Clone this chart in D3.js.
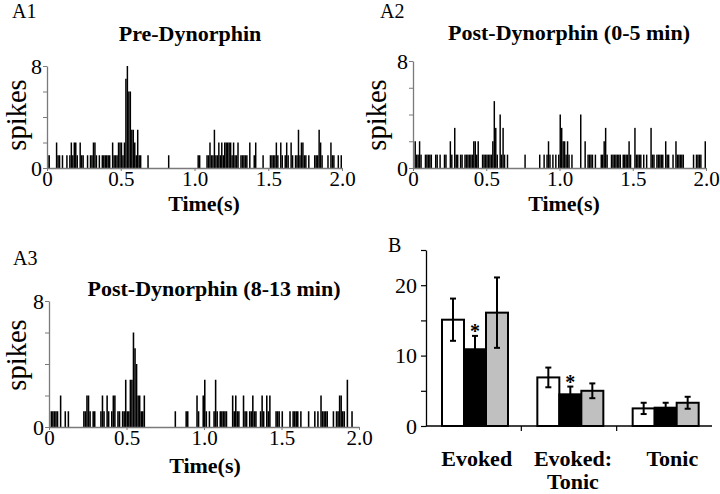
<!DOCTYPE html>
<html><head><meta charset="utf-8">
<script src="https://cdn.jsdelivr.net/npm/d3@7/dist/d3.min.js"></script>
<style>
body{margin:0;background:#fff}
svg{display:block}
svg text{font-family:"Liberation Serif","Times New Roman",serif !important;fill:#000}
</style>
</head><body>
<svg id="c" width="720" height="494"></svg>
<script>
// ---------------- DATA ----------------
const binWidth = 0.01; // seconds per histogram bin
// A1: Pre-Dynorphin, spikes per 10 ms bin (0 - 2.0 s)
const countsPre = [
 1,1,0,0,0,0,2,1,1,0, 1,0,0,1,0,1,2,1,2,2, 1,0,2,1,1,0,0,1,0,1, 1,2,2,1,0,1,0,1,1,1,
 1,1,1,0,2,1,1,1,2,2, 2,1,2,7,8,6,6,3,3,2, 1,3,1,1,0,0,0,0,1,0, 0,0,0,0,0,0,0,0,0,0,
 0,0,1,0,0,0,0,0,0,0, 0,0,0,0,0,0,0,0,0,0, 0,0,1,1,0,0,0,0,1,1, 2,1,1,3,1,1,2,1,2,1,
 2,2,2,2,2,1,2,1,1,2, 0,1,1,1,1,1,0,2,0,0, 1,2,0,0,0,0,1,0,0,0, 0,1,1,1,1,2,1,0,2,1,
 0,1,2,1,0,2,1,0,1,1, 3,1,2,2,1,1,0,1,0,0, 0,1,1,1,3,2,1,0,0,0, 1,0,2,1,1,0,0,1,0,1
];
// A2: Post-Dynorphin (0-5 min)
const countsPost05 = [
 0,2,1,1,2,1,0,0,1,1, 1,1,1,0,0,1,1,0,1,0, 0,1,1,0,0,2,1,0,3,1, 1,0,1,1,0,1,1,1,1,1,
 1,2,2,1,2,0,0,1,1,1, 1,1,1,1,2,5,3,1,0,4, 1,3,1,0,1,0,0,0,0,0, 0,0,0,0,0,0,1,0,0,0,
 0,0,0,0,0,0,1,0,0,1, 0,1,2,1,0,1,0,1,0,1, 4,3,2,2,1,2,1,0,1,0, 0,0,0,0,4,0,0,2,0,1,
 1,1,1,0,1,0,0,0,1,1, 2,3,1,0,0,1,1,1,1,1, 1,1,0,1,1,1,1,2,1,0, 0,3,1,1,1,1,0,1,0,1,
 0,0,3,1,1,0,1,1,1,1, 1,0,2,1,1,0,0,1,0,2, 1,1,1,1,1,0,0,0,0,0, 0,1,0,1,1,1,1,0,0,2
];
// A3: Post-Dynorphin (8-13 min)
const countsPost813 = [
 0,1,1,1,1,1,0,2,0,0, 1,0,1,0,0,0,0,0,0,0, 0,0,1,1,2,2,1,0,1,1, 0,0,0,1,2,1,0,2,1,0,
 1,2,2,0,1,1,0,1,1,3, 1,1,3,3,6,5,4,2,2,1, 1,2,0,0,0,0,0,0,0,0, 0,0,0,0,0,0,0,0,0,0,
 0,1,0,0,0,0,0,0,1,1, 0,0,0,0,0,2,1,0,0,2, 3,1,0,1,0,0,1,3,1,0, 1,1,1,1,1,0,0,0,2,1,
 2,1,1,0,0,2,1,1,0,1, 1,2,1,1,0,0,1,2,1,0, 2,1,2,0,0,0,1,1,1,0, 1,0,0,0,0,1,0,1,1,1,
 1,0,1,0,0,0,0,1,0,0, 0,1,0,1,0,2,1,1,1,1, 0,0,0,1,0,1,1,2,2,1, 1,0,3,0,0,1,0,0,0,0
];
const timeTicks = [0, 0.5, 1.0, 1.5, 2.0];
const timeTickLabels = ["0", "0.5", "1.0", "1.5", "2.0"];
const spikeTicks = [0, 2, 4, 6, 8];
const spikeTickLabels = ["0", "", "", "", "8"];

// B: bar chart
const groups = ["Evoked", "Evoked:Tonic", "Tonic"];
const groupLabels = [["Evoked"], ["Evoked:", "Tonic"], ["Tonic"]];
const conditions = ["Pre", "Post 0-5 min", "Post 8-13 min"];
const meanEvoked = [15.1, 10.9, 16.1];
const errEvoked = [3.0, 1.9, 5.0];
const meanRatio = [6.9, 4.5, 5.0];
const errRatio = [1.4, 1.1, 1.05];
const meanTonic = [2.5, 2.6, 3.3];
const errTonic = [0.8, 0.7, 0.85];
const significant = [[false, true, false], [false, true, false], [false, false, false]];
const barTicks = [0, 5, 10, 15, 20, 25];
const barTickLabels = ["0", "", "10", "", "20", ""];

// ---------------- DRAW ----------------
const FONT = '"Liberation Serif","Times New Roman",serif';
const svg = d3.select("#c");
const AXIS_GRAY = "#7a7a7a";

const panels = [
  {id:"A1", title:"Pre-Dynorphin", counts:countsPre, x0:47, x1:342, yb:168, yt:66,
   lx:12, ly:18, tx:190, ty:41, sx:26, sy:115, timeX:204, timeY:211},
  {id:"A2", title:"Post-Dynorphin (0-5 min)", counts:countsPost05, x0:413, x1:706, yb:168, yt:61,
   lx:380, ly:18, tx:569, ty:40, sx:386, sy:115, timeX:564, timeY:211},
  {id:"A3", title:"Post-Dynorphin (8-13 min)", counts:countsPost813, x0:49, x1:359, yb:427, yt:301,
   lx:13, ly:265, tx:214, ty:296, sx:26, sy:355, timeX:205, timeY:473}
];

function styleText(sel, size, bold) {
  sel.style("font-family", FONT).style("font-size", size + "px")
     .style("font-weight", bold ? "bold" : "normal").attr("fill", "#000");
  return sel;
}

panels.forEach(p => {
  const g = svg.append("g");
  const x = d3.scaleLinear().domain([0, 2.0]).range([p.x0, p.x1]);
  const y = d3.scaleLinear().domain([0, 8]).range([p.yb, p.yt]);

  // bars
  g.append("g").selectAll("rect")
    .data(p.counts.map((v, i) => ({i, v})).filter(d => d.v > 0))
    .join("rect")
    .attr("x", d => x(d.i * binWidth))
    .attr("width", d => x((d.i + 1) * binWidth) - x(d.i * binWidth))
    .attr("y", d => y(d.v))
    .attr("height", d => y(0) - y(d.v))
    .attr("fill", "#000");

  // y axis
  const ya = g.append("g").attr("transform", `translate(${p.x0},0)`)
    .call(d3.axisLeft(y).tickValues(spikeTicks).tickSize(4).tickSizeOuter(0).tickPadding(1)
      .tickFormat((d, i) => spikeTickLabels[i]));
  ya.attr("font-family", null).attr("font-size", null);
  ya.select(".domain").attr("stroke", AXIS_GRAY).attr("stroke-width", 1.3);
  ya.selectAll(".tick line").attr("stroke", AXIS_GRAY);
  styleText(ya.selectAll("text"), 22, false);

  // x axis
  const xa = g.append("g").attr("transform", `translate(0,${p.yb})`)
    .call(d3.axisBottom(x).tickValues(timeTicks).tickSize(3).tickSizeOuter(0).tickPadding(0)
      .tickFormat((d, i) => timeTickLabels[i]));
  xa.attr("font-family", null).attr("font-size", null);
  xa.select(".domain").attr("stroke", AXIS_GRAY).attr("stroke-width", 1.6);
  xa.selectAll(".tick line").attr("stroke", AXIS_GRAY);
  styleText(xa.selectAll("text"), 21, false);

  // texts
  styleText(g.append("text").attr("x", p.lx).attr("y", p.ly).text(p.id), 20, false);
  styleText(g.append("text").attr("x", p.tx).attr("y", p.ty).attr("text-anchor", "middle").text(p.title), 22, true);
  styleText(g.append("text").attr("transform", `translate(${p.sx},${p.sy}) rotate(-90)`)
    .attr("text-anchor", "middle").text("spikes"), 28.5, false);
  styleText(g.append("text").attr("x", p.timeX).attr("y", p.timeY).attr("text-anchor", "middle")
    .text("Time(s)"), 22, true);
});

// ----- Panel B -----
const B = svg.append("g");
const yB = d3.scaleLinear().domain([0, 25]).range([426, 250]);
const xB = d3.scaleBand().domain(groups).range([426, 712]);
const xSub = d3.scaleBand().domain(conditions).range([16, 82]);
const fills = ["#ffffff", "#000000", "#c0c0c0"];
const means = [meanEvoked, meanRatio, meanTonic];
const errs = [errEvoked, errRatio, errTonic];

const barData = [];
groups.forEach((gName, gi) => conditions.forEach((c, ci) => {
  barData.push({g:gName, gi, c, ci, m:means[gi][ci], e:errs[gi][ci], sig:significant[gi][ci]});
}));

B.selectAll("rect.bar").data(barData).join("rect").attr("class", "bar")
  .attr("x", d => xB(d.g) + xSub(d.c))
  .attr("width", xSub.bandwidth())
  .attr("y", d => yB(d.m))
  .attr("height", d => yB(0) - yB(d.m))
  .attr("fill", d => fills[d.ci])
  .attr("stroke", "#000").attr("stroke-width", 2);

const eb = B.append("g").attr("stroke", "#000").attr("stroke-width", 2);
barData.forEach(d => {
  const cx = xB(d.g) + xSub(d.c) + xSub.bandwidth() / 2;
  eb.append("line").attr("x1", cx).attr("x2", cx).attr("y1", yB(d.m - d.e)).attr("y2", yB(d.m + d.e));
  [d.m - d.e, d.m + d.e].forEach(v => {
    eb.append("line").attr("x1", cx - 3).attr("x2", cx + 3).attr("y1", yB(v)).attr("y2", yB(v));
  });
  if (d.sig) {
    styleText(B.append("text").attr("x", cx).attr("y", yB(d.m + d.e) + 2.5).attr("text-anchor", "middle")
      .text("*"), 20, true);
  }
});

// axes for B
const yaB = B.append("g").attr("transform", "translate(426,0)")
  .call(d3.axisLeft(yB).tickValues(barTicks).tickSize(5).tickSizeOuter(0).tickPadding(4)
    .tickFormat((d, i) => barTickLabels[i]));
yaB.attr("font-family", null).attr("font-size", null);
yaB.select(".domain").attr("stroke", "#000").attr("stroke-width", 1.3);
yaB.selectAll(".tick line").attr("stroke", "#000").attr("stroke-width", 1.2);
styleText(yaB.selectAll("text"), 22, false);

const xaB = B.append("g").attr("transform", "translate(0,426)");
xaB.append("line").attr("x1", 426).attr("x2", 712).attr("y1", 0).attr("y2", 0)
  .attr("stroke", "#000").attr("stroke-width", 1.3);
xaB.selectAll("line.tk").data(groups.slice(1)).join("line").attr("class", "tk")
  .attr("x1", d => xB(d)).attr("x2", d => xB(d)).attr("y1", 0).attr("y2", 5)
  .attr("stroke", "#000").attr("stroke-width", 1.2);

const labelOffsets = [3, 4, 8];
groups.forEach((gName, gi) => {
  const cx = xB(gName) + xB.bandwidth() / 2 + labelOffsets[gi];
  groupLabels[gi].forEach((line, li) => {
    styleText(B.append("text").attr("x", cx).attr("y", 466 + li * 23).attr("text-anchor", "middle")
      .text(line), 22, true);
  });
});

styleText(B.append("text").attr("x", 388).attr("y", 252).text("B"), 20, false);
</script>
</body></html>
